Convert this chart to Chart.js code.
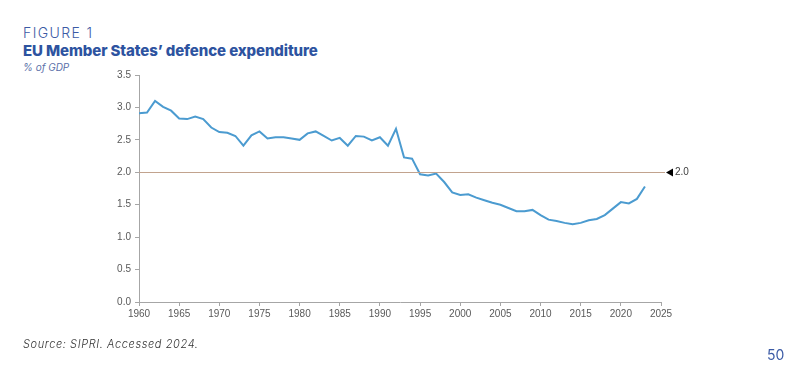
<!DOCTYPE html>
<html>
<head>
<meta charset="utf-8">
<script src="https://cdn.jsdelivr.net/npm/chart.js@4.4.1/dist/chart.umd.min.js"></script>
<style>
  html, body { margin: 0; padding: 0; background: #fff; }
  body { width: 800px; height: 376px; position: relative; overflow: hidden; font-family: "Inter", "Noto Sans", sans-serif; }
  #wrap { position: absolute; left: 0; top: 0; width: 800px; height: 376px; }
  .fig { position: absolute; left: 23px; top: 24px; font-size: 14px; letter-spacing: 1.4px; color: #3b5aa5; font-weight: 300; }
  .title { position: absolute; left: 23px; top: 41px; font-size: 15px; font-weight: 800; color: #2d53a0; letter-spacing: -0.1px; }
  .unit { position: absolute; left: 23px; top: 61px; font-size: 10px; font-style: italic; color: #5a6fa8; }
  .source { position: absolute; left: 23px; top: 337px; font-size: 11px; font-style: italic; font-weight: 300; letter-spacing: 0.6px; color: #333; }
  .page { position: absolute; left: 767px; top: 346px; font-size: 14px; color: #3b5aa5; }
</style>
</head>
<body>
<div class="fig">FIGURE 1</div>
<div class="title">EU Member States’ defence expenditure</div>
<div class="unit">% of GDP</div>
<div id="wrap"><canvas id="chart"></canvas></div>
<div class="source">Source: SIPRI. Accessed 2024.</div>
<div class="page">50</div>

<script>
// EU defence spending, % of GDP
const years = [];
for (let y = 1960; y <= 2023; y++) years.push(y);

const spending = [
  2.91, 2.92, 3.10, 3.01, 2.95, 2.83, 2.82, 2.86, 2.82, 2.69,
  2.62, 2.61, 2.56, 2.41, 2.57, 2.63, 2.52, 2.54, 2.54, 2.52,
  2.50, 2.60, 2.63, 2.56, 2.49, 2.53, 2.41, 2.56, 2.55, 2.49,
  2.54, 2.41, 2.67, 2.23, 2.21, 1.97, 1.95, 1.98, 1.85, 1.69,
  1.65, 1.66, 1.61, 1.57, 1.53, 1.50, 1.45, 1.40, 1.40, 1.42,
  1.34, 1.27, 1.25, 1.22, 1.20, 1.22, 1.26, 1.28, 1.34, 1.44,
  1.54, 1.52, 1.59, 1.78
];

const target = 2.0;
const targetLabel = "2.0";

const xMin = 1960, xMax = 2025, xStep = 5;
const yMin = 0, yMax = 3.5, yStep = 0.5;

// horizontal NATO 2% line with arrow label
const targetLine = {
  id: "targetLine",
  afterDatasetsDraw(chart) {
    const { ctx, chartArea, scales } = chart;
    const y = Math.round(scales.y.getPixelForValue(target)) + 0.5;
    ctx.save();
    ctx.strokeStyle = "#c2a38e";
    ctx.lineWidth = 1;
    ctx.beginPath();
    ctx.moveTo(chartArea.left, y);
    ctx.lineTo(chartArea.right + 4, y);
    ctx.stroke();
    const ax = chartArea.right + 5;
    ctx.fillStyle = "#000";
    ctx.beginPath();
    ctx.moveTo(ax, y);
    ctx.lineTo(ax + 7, y - 4);
    ctx.lineTo(ax + 7, y + 4);
    ctx.closePath();
    ctx.fill();
    ctx.fillStyle = "#404040";
    ctx.font = "10px 'Liberation Sans'";
    ctx.textBaseline = "middle";
    ctx.fillText(targetLabel, ax + 9, y);
    ctx.restore();
  }
};

const tickFont = { family: "Liberation Sans", size: 10 };

new Chart(document.getElementById("chart"), {
  type: "line",
  data: {
    datasets: [{
      data: years.map((yr, i) => ({ x: yr, y: spending[i] })),
      borderColor: "#4b9bd0",
      borderWidth: 2,
      pointRadius: 0,
      tension: 0,
      fill: false
    }]
  },
  options: {
    responsive: true,
    maintainAspectRatio: false,
    animation: false,
    layout: { padding: { left: 105, right: 139, top: 75, bottom: 46 } },
    plugins: { legend: { display: false }, tooltip: { enabled: false } },
    scales: {
      x: {
        type: "linear",
        min: xMin, max: xMax,
        ticks: { stepSize: xStep, color: "#595959", font: tickFont, maxRotation: 0, padding: 2,
                 callback: v => String(v) },
        grid: { drawOnChartArea: false, drawTicks: true, tickLength: 4, color: "#a6a6a6" },
        border: { display: true, color: "#a6a6a6" },
        afterFit: s => { s.height = 28; }
      },
      y: {
        min: yMin, max: yMax,
        ticks: { stepSize: yStep, color: "#595959", font: tickFont, padding: 4,
                 callback: v => v.toFixed(1) },
        grid: { drawOnChartArea: false, drawTicks: true, tickLength: 4, color: "#a6a6a6" },
        border: { display: true, color: "#a6a6a6" },
        afterFit: s => { s.width = 34; }
      }
    }
  },
  plugins: [targetLine]
});
</script>
</body>
</html>
